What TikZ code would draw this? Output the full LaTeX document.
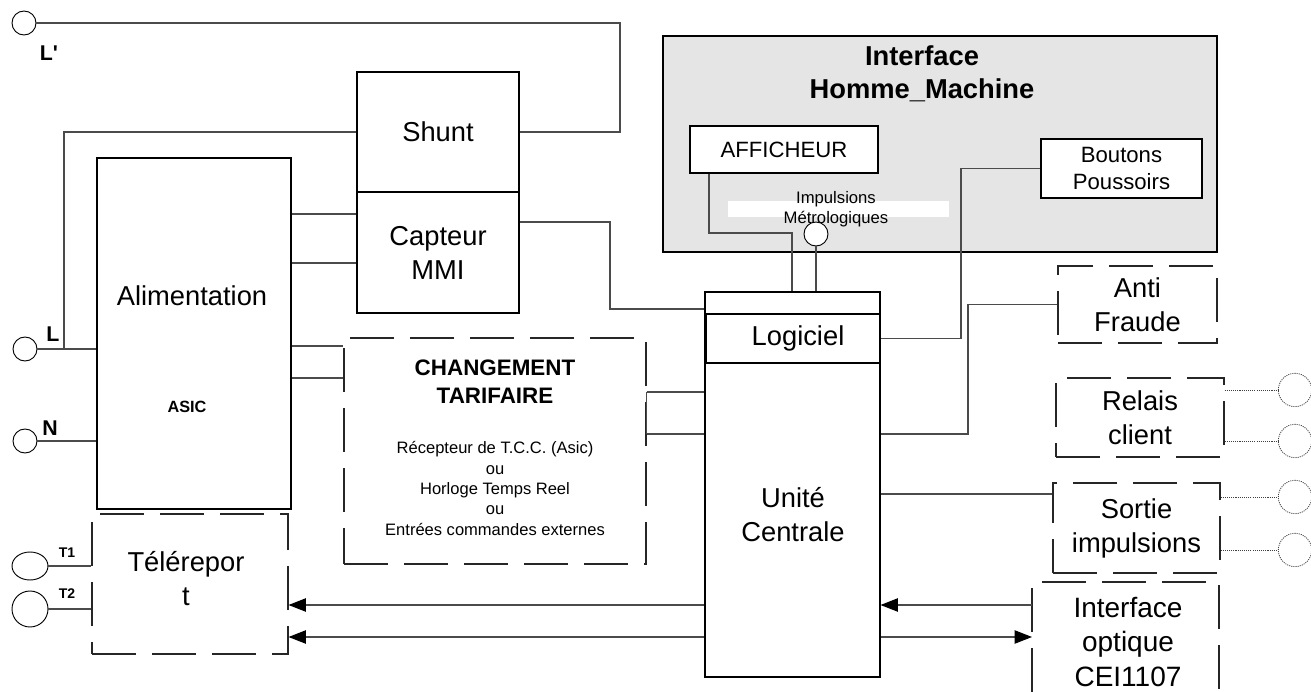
\documentclass[tikz,border=0pt]{standalone}
\usepackage{fontspec}
\setmainfont{Liberation Sans}
\usetikzlibrary{arrows.meta,shapes.geometric}
\definecolor{lnc}{RGB}{75,75,75}
\definecolor{ihmfill}{RGB}{229,229,229}
\begin{document}
\begin{tikzpicture}[x=0.75pt,y=-0.75pt,
  box/.style={draw=black, line width=0.8pt, inner sep=0pt, align=center},
  dbox/.style={draw=black!85, line width=0.8pt, inner sep=0pt, align=center, dash pattern=on 33pt off 12pt},
  conn/.style={draw=lnc, line width=0.8pt},
  dotc/.style={draw=black!75, line width=0.6pt, dash pattern=on 0.8pt off 0.8pt},
  arr/.style={conn, -{Triangle[length=13pt,width=10pt,color=black]}},
  big/.style={font=\fontsize{20.5}{25.5}\selectfont, align=center},
  mid/.style={font=\fontsize{16.6}{20}\selectfont, align=center},
  lbl/.style={font=\bfseries\fontsize{16}{18}\selectfont},
  term/.style={circle, draw=black, line width=0.7pt, inner sep=0pt, minimum size=18pt}
]
\useasboundingbox (0,0) rectangle (1311,692);

% level coordinates
\coordinate (ya) at (0,214);
\coordinate (yb) at (0,263);
\coordinate (yc) at (0,346);
\coordinate (yd) at (0,378);
\coordinate (ye) at (0,392);
\coordinate (yf) at (0,434);
\coordinate (yg) at (0,222);
\coordinate (yh) at (0,309);
\coordinate (ys) at (0,494);
\coordinate (yo1) at (0,605);
\coordinate (yo2) at (0,637);
\coordinate (xa) at (709,0);
\coordinate (xb) at (792,0);
\coordinate (opt1) at (1032,605);
\coordinate (opt2) at (1032,637);

% Interface Homme Machine
\node[box, fill=ihmfill, minimum width=415.5pt, minimum height=162pt] (ihm) at (940,144) {};
\node[font=\bfseries\fontsize{20.5}{24.75}\selectfont, align=center] (ihmt) at (922,74) {Interface\\Homme\_Machine};
\node[box, line width=1.6pt, fill=white, minimum width=141pt, minimum height=35.25pt, mid] (aff) at (784,149.5) {AFFICHEUR};
\node[box, fill=white, minimum width=120.75pt, minimum height=44.25pt, mid] (bout) at (1121.5,168.5) {Boutons\\Poussoirs};
\fill[white] (728,201) rectangle (949,217);
\node[font=\fontsize{12.5}{15}\selectfont, align=center] (imp) at (836,209) {Impulsions\\Métrologiques};
\node[term, fill=white, minimum size=18pt] (ic) at (816,234) {};

% Shunt / Capteur
\node[box, minimum width=121.5pt, minimum height=90pt, big] (shunt) at (438,132) {Shunt};
\node[box, minimum width=121.5pt, minimum height=90.75pt, big] (capt) at (438,252.5) {Capteur\\MMI};

% Alimentation
\node[box, minimum width=145.5pt, minimum height=263.25pt] (alim) at (194,333.5) {};
\node[big] (alimt) at (192,296) {Alimentation};
\node[font=\bfseries\fontsize{12.2}{14}\selectfont] (asic) at (187,407) {ASIC};

% Unite centrale
\node[box, minimum width=131.25pt, minimum height=288.75pt] (uc) at (792.5,484.5) {};
\node[big] (uct) at (793,515) {Unité\\Centrale};
\node[box, minimum width=130.5pt, minimum height=36.75pt] (log) at (793,338.5) {};
\node[big] (logt) at (798,338.5) {Logiciel};

% dashed boxes right
\node[dbox, minimum width=119.25pt, minimum height=57.75pt, big] (anti) at (1137.5,304.5) {Anti\\Fraude};
\node[dbox, minimum width=126pt, minimum height=59.25pt, big] (rel) at (1140,417.5) {Relais\\client};
\node[dbox, minimum width=125.25pt, minimum height=67.5pt, big] (sort) at (1136.5,528) {Sortie\\impulsions};
\draw[dbox] (1032,692) -- (opt1) -- (1032,582) -- (1219,582) -- (1219,692);
\node[font=\fontsize{21}{26}\selectfont, align=center] (optt) at (1128,642) {Interface\\optique\\CEI1107};

% Changement tarifaire
\node[dbox, minimum width=226.5pt, minimum height=169.5pt] (ct) at (495,451) {};
\node[font=\bfseries\fontsize{16.8}{21}\selectfont, align=center] (ctt) at (495,382) {CHANGEMENT\\TARIFAIRE};
\node[font=\fontsize{12.4}{15.3}\selectfont, align=center] (cts) at (495,488.5) {Récepteur de T.C.C. (Asic)\\ou\\Horloge Temps Reel\\ou\\Entrées commandes externes};

% Teleport
\node[dbox, minimum width=147pt, minimum height=105pt] (tele) at (190,584) {};
\node[big] (telet) at (186,578.5) {Télérepor\\t};

% terminals
\node[term] (Lp) at (24,23) {};
\node[lbl] (Lpt) at (49,53) {L\textquotesingle};
\node[term] (Lc) at (25,349) {};
\node[lbl] (Lt) at (53,334) {L};
\node[term] (Nc) at (25,441) {};
\node[lbl] (Nt) at (50,428) {N};
\node[ellipse, draw=black, line width=0.7pt, inner sep=0pt, minimum width=27pt, minimum height=21pt] (T1) at (30,566) {};
\node[circle, draw=black, line width=0.7pt, inner sep=0pt, minimum size=27pt] (T2) at (30,609) {};
\node[font=\bfseries\fontsize{10.5}{12}\selectfont] (T1t) at (67,553) {T1};
\node[font=\bfseries\fontsize{10.5}{12}\selectfont] (T2t) at (67,594) {T2};
\node[circle, dotc, inner sep=0pt, minimum size=25pt] (r1) at (1295,390) {};
\node[circle, dotc, inner sep=0pt, minimum size=25pt] (r2) at (1295,441) {};
\node[circle, dotc, inner sep=0pt, minimum size=25pt] (s1) at (1295,497) {};
\node[circle, dotc, inner sep=0pt, minimum size=25pt] (s2) at (1295,550) {};

% connectors
\draw[conn] (Lp.east) -- (620,23) -- (620,132) -- (shunt.east);
\draw[conn] (shunt.west) -- (64,132) -- (64,349);
\draw[conn] (Lc.east) -- (alim.west |- Lc.east);
\draw[conn] (Nc.east) -- (alim.west |- Nc.east);
\draw[conn] (alim.east |- ya) -- (capt.west |- ya);
\draw[conn] (alim.east |- yb) -- (capt.west |- yb);
\draw[conn] (alim.east |- yc) -- (ct.west |- yc);
\draw[conn] (alim.east |- yd) -- (ct.west |- yd);
\draw[conn] (ct.east |- ye) -- (uc.west |- ye);
\draw[conn] (ct.east |- yf) -- (uc.west |- yf);
\draw[conn] (ct.east |- ye) -- (ct.east |- yf);
\draw[conn] (capt.east |- yg) -- (610,222) -- (610,309) -- (uc.west |- yh);
\draw[conn] (aff.south -| xa) -- (709,233) -- (792,233) -- (uc.north -| xb);
\draw[conn] (ic.south) -- (uc.north -| ic.south);
\draw[conn] (bout.west) -- (961,168.5) -- (961,338.5) -- (log.east);
\draw[conn] (anti.west) -- (968,304.5) -- (968,434) -- (uc.east |- yf);
\draw[conn] (uc.east |- ys) -- (sort.west |- ys);
\draw[arr] (opt1) -- (uc.east |- yo1);
\draw[arr] (uc.east |- yo2) -- (opt2);
\draw[arr] (uc.west |- yo1) -- (tele.east |- yo1);
\draw[arr] (uc.west |- yo2) -- (tele.east |- yo2);
\draw[conn] (T1.east) -- (tele.west |- T1.east);
\draw[conn] (T2.east) -- (tele.west |- T2.east);
\draw[dotc] (rel.east |- r1.west) -- (r1.west);
\draw[dotc] (rel.east |- r2.west) -- (r2.west);
\draw[dotc] (sort.east |- s1.west) -- (s1.west);
\draw[dotc] (sort.east |- s2.west) -- (s2.west);
\end{tikzpicture}
\end{document}
